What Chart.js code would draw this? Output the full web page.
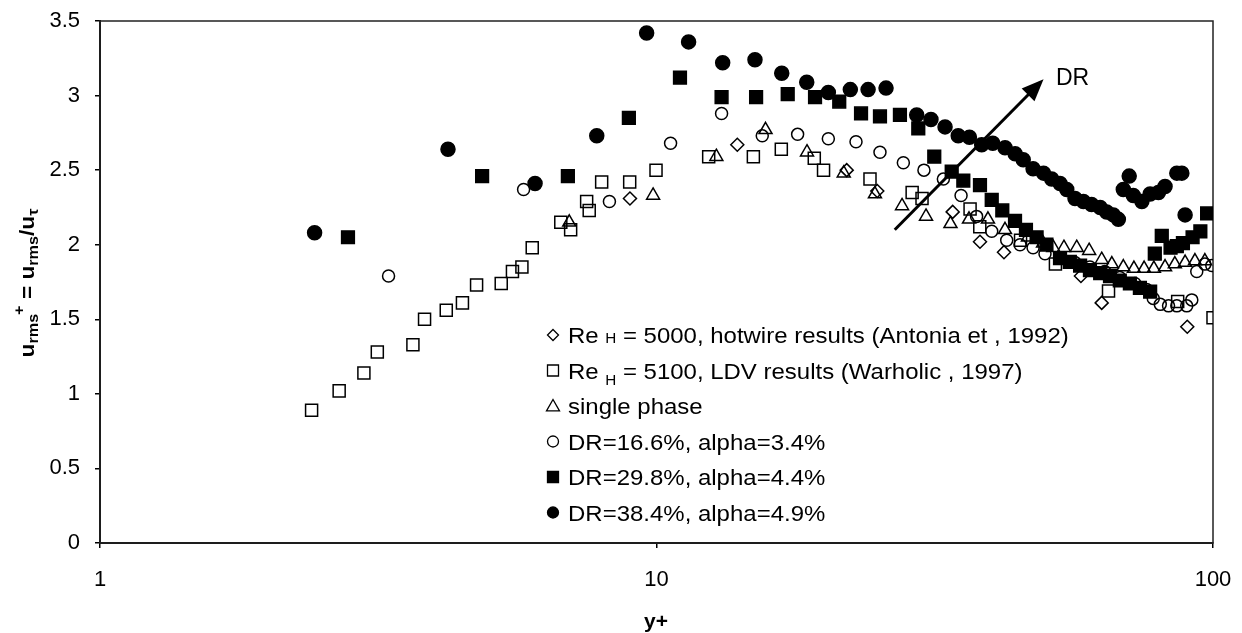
<!DOCTYPE html>
<html>
<head>
<meta charset="utf-8">
<script src="https://cdn.jsdelivr.net/npm/chart.js@4.4.0/dist/chart.umd.min.js"></script>
<style>
  html, body { margin: 0; padding: 0; background: #fff; }
  #wrap { width: 1242px; height: 633px; }
</style>
</head>
<body>
<div id="wrap"><canvas id="rmsChart" width="1242" height="633"></canvas></div>
<script>
// values (y+ on a log axis, u_rms+ linear)
const antoniaX = [8.96, 13.97, 21.97, 24.93, 34.06, 38.13, 42.11, 57.9, 63.1, 89.9];
const antoniaY = [2.31, 2.67, 2.50, 2.36, 2.22, 2.02, 1.95, 1.79, 1.61, 1.45];

const warholicX = [2.40, 2.69, 2.98, 3.15, 3.65, 3.83, 4.19, 4.48, 4.75, 5.26, 5.51, 5.73, 5.98, 6.73, 7.01, 7.49, 7.57,
    7.97, 8.95, 9.98, 12.41, 14.93, 16.76, 19.21, 19.96, 24.19, 28.8, 30.0, 36.6, 38.1, 45.1, 52.1, 64.9, 86.4, 100];
const warholicY = [0.89, 1.02, 1.14, 1.28, 1.33, 1.50, 1.56, 1.61, 1.73, 1.74, 1.82, 1.85, 1.98, 2.15, 2.10, 2.29, 2.23,
    2.42, 2.42, 2.50, 2.59, 2.59, 2.64, 2.58, 2.50, 2.44, 2.35, 2.31, 2.24, 2.12, 2.03, 1.87, 1.69, 1.62, 1.51];

const singleX = [6.97, 9.86, 12.81, 15.70, 18.64, 21.70, 24.69, 27.62, 30.50, 33.75, 36.44, 39.41, 42.29, 46.5, 49.5,
    51.64, 53.97, 56.9, 59.9, 63.1, 65.8, 69.0, 72.1, 75.2, 78.3, 82.0, 85.4, 89.1, 92.8, 96.7];
const singleY = [2.15, 2.33, 2.59, 2.77, 2.62, 2.48, 2.34, 2.26, 2.19, 2.14, 2.17, 2.17, 2.10, 2.05, 2.01,
    1.98, 1.98, 1.98, 1.96, 1.90, 1.87, 1.85, 1.84, 1.84, 1.84, 1.85, 1.87, 1.88, 1.89, 1.89];

const dr166X = [3.30, 5.77, 8.23, 10.60, 13.09, 15.49, 17.93, 20.36, 22.83, 25.21, 27.77, 30.24, 32.77, 35.26, 37.6,
    40.03, 42.59, 45.0, 47.5, 49.9, 53.1, 56.5, 60.1, 63.9, 68.0, 72.4, 76.0, 78.1, 80.4, 83.2, 86.1, 89.7, 91.6,
    93.5, 96.7, 99.5];
const dr166Y = [1.79, 2.37, 2.29, 2.68, 2.88, 2.73, 2.74, 2.71, 2.69, 2.62, 2.55, 2.50, 2.44, 2.33, 2.19,
    2.09, 2.03, 2.00, 1.98, 1.94, 1.91, 1.88, 1.85, 1.82, 1.78, 1.74, 1.70, 1.64, 1.60, 1.59, 1.59, 1.59, 1.63,
    1.82, 1.87, 1.86];

const dr298X = [2.79, 4.86, 6.93, 8.92, 11.02, 13.09, 15.10, 17.21, 19.27, 21.30, 23.31, 25.21, 27.38, 29.54, 31.56,
    33.92, 35.59, 38.13, 40.03, 41.82, 44.08, 46.12, 48.2, 50.2, 53.1, 55.3, 57.7, 60.1, 62.7, 65.3, 68.0, 70.9,
    73.9, 77.1, 78.6, 80.9, 83.9, 86.1, 88.3, 91.9, 94.9, 97.6];
const dr298Y = [2.05, 2.46, 2.46, 2.85, 3.12, 2.99, 2.99, 3.01, 2.99, 2.96, 2.88, 2.86, 2.87, 2.78, 2.59,
    2.49, 2.43, 2.40, 2.30, 2.23, 2.16, 2.10, 2.05, 2.00, 1.91, 1.885, 1.86, 1.83, 1.81, 1.79, 1.76, 1.74,
    1.71, 1.685, 1.94, 2.06, 1.98, 1.99, 2.01, 2.05, 2.09, 2.21];

const dr384X = [2.43, 4.22, 6.05, 7.81, 9.60, 11.42, 13.15, 15.03, 16.79, 18.62, 20.36, 22.3, 24.0, 25.85, 29.35,
    31.13, 33.0, 34.85, 36.5, 38.4, 40.2, 42.3, 44.1, 45.6, 47.5, 49.6, 51.3, 53.1, 54.6, 56.5, 58.5, 60.5, 62.7,
    64.4, 66.2, 67.6, 69.0, 70.7, 71.9, 74.5, 77.1, 79.8, 82.0, 86.1, 87.9, 89.1];
const dr384Y = [2.08, 2.64, 2.41, 2.73, 3.42, 3.36, 3.22, 3.24, 3.15, 3.09, 3.02, 3.04, 3.04, 3.05, 2.87,
    2.84, 2.79, 2.73, 2.72, 2.67, 2.68, 2.65, 2.61, 2.57, 2.51, 2.48, 2.44, 2.41, 2.37, 2.31, 2.29, 2.27, 2.25,
    2.22, 2.20, 2.17, 2.37, 2.46, 2.33, 2.29, 2.34, 2.35, 2.39, 2.48, 2.48, 2.20];

const xTickValues = [1, 10, 100];
const yTickValues = [0, 0.5, 1, 1.5, 2, 2.5, 3, 3.5];

const FONT = "'Liberation Sans', Arial, sans-serif";

function toPoints(xs, ys) {
    return xs.map((x, i) => ({ x: x, y: ys[i] }));
}

function markerSet(style, radius, filled) {
    return {
        showLine: false,
        pointStyle: style,
        pointRadius: radius,
        pointBorderWidth: 1.5,
        pointBorderColor: "#000",
        pointBackgroundColor: filled ? "#000" : "rgba(0,0,0,0)",
    };
}

// legend is drawn by hand so that "Re H" can carry its subscript
const legendRows = [
    { style: "rectRot", filled: false, sub: "H", subDrop: 0, text: " = 5000, hotwire results (Antonia et , 1992)" },
    { style: "rect", filled: false, sub: "H", subDrop: 6, text: " = 5100, LDV results (Warholic , 1997)" },
    { style: "triangle", filled: false, text: "single phase" },
    { style: "circle", filled: false, text: "DR=16.6%, alpha=3.4%" },
    { style: "rect", filled: true, text: "DR=29.8%, alpha=4.4%" },
    { style: "circle", filled: true, text: "DR=38.4%, alpha=4.9%" },
];

function drawMarker(ctx, style, x, y, r, filled) {
    ctx.beginPath();
    if (style === "rectRot") {
        ctx.moveTo(x, y - r); ctx.lineTo(x + r, y); ctx.lineTo(x, y + r); ctx.lineTo(x - r, y);
        ctx.closePath();
    } else if (style === "rect") {
        ctx.rect(x - r, y - r, 2 * r, 2 * r);
    } else if (style === "triangle") {
        ctx.moveTo(x, y - r); ctx.lineTo(x + r, y + r * 0.75); ctx.lineTo(x - r, y + r * 0.75);
        ctx.closePath();
    } else {
        ctx.arc(x, y, r, 0, Math.PI * 2);
    }
    if (filled) { ctx.fillStyle = "#000"; ctx.fill(); }
    ctx.strokeStyle = "#000";
    ctx.lineWidth = 1.3;
    ctx.stroke();
}

// draws pieces of text one after another, each with its own size and vertical shift
function drawRich(ctx, parts, x, y, bold) {
    let cx = x;
    parts.forEach(p => {
        ctx.font = (bold ? "bold " : "") + p.size + "px " + FONT;
        ctx.fillText(p.t, cx, y + (p.dy || 0));
        cx += ctx.measureText(p.t).width + (p.gap || 0);
    });
    return cx;
}

function richWidth(ctx, parts, bold) {
    let w = 0;
    parts.forEach(p => {
        ctx.font = (bold ? "bold " : "") + p.size + "px " + FONT;
        w += ctx.measureText(p.t).width + (p.gap || 0);
    });
    return w;
}

const annotatePlugin = {
    id: "annotate",
    beforeDatasetsDraw(chart) {
        const { ctx, chartArea: a } = chart;
        ctx.save();
        ctx.strokeStyle = "#222";
        ctx.lineWidth = 1.5;
        ctx.strokeRect(a.left, a.top, a.right - a.left, a.bottom - a.top);
        ctx.restore();
    },
    afterDraw(chart) {
        const { ctx, scales } = chart;
        const xs = scales.x, ys = scales.y;
        ctx.save();
        ctx.fillStyle = "#000";
        ctx.textBaseline = "alphabetic";
        ctx.textAlign = "left";

        // DR arrow
        const x0 = xs.getPixelForValue(26.8), y0 = ys.getPixelForValue(2.10);
        const x1 = xs.getPixelForValue(49.6), y1 = ys.getPixelForValue(3.11);
        const ang = Math.atan2(y1 - y0, x1 - x0);
        const head = 22, half = 9;
        ctx.strokeStyle = "#000";
        ctx.lineWidth = 3;
        ctx.beginPath();
        ctx.moveTo(x0, y0);
        ctx.lineTo(x1 - Math.cos(ang) * head * 0.8, y1 - Math.sin(ang) * head * 0.8);
        ctx.stroke();
        ctx.beginPath();
        ctx.moveTo(x1, y1);
        ctx.lineTo(x1 - Math.cos(ang) * head + Math.sin(ang) * half, y1 - Math.sin(ang) * head - Math.cos(ang) * half);
        ctx.lineTo(x1 - Math.cos(ang) * head - Math.sin(ang) * half, y1 - Math.sin(ang) * head + Math.cos(ang) * half);
        ctx.closePath();
        ctx.fill();

        ctx.font = "23px " + FONT;
        ctx.fillText("DR", xs.getPixelForValue(52.2), ys.getPixelForValue(3.125) + 8);

        // legend (text slightly widened like the scanned original)
        legendRows.forEach((row, i) => {
            const cy = 335 + i * 35.5;
            drawMarker(ctx, row.style, 553, cy, row.style === "triangle" ? 6.5 : 5.5, row.filled);
            ctx.fillStyle = "#000";
            ctx.save();
            ctx.translate(568, cy + 8);
            ctx.scale(1.09, 1);
            if (row.sub) {
                drawRich(ctx, [
                    { t: "Re", size: 22, gap: 6 },
                    { t: row.sub, size: 14, dy: row.subDrop },
                    { t: row.text, size: 22 },
                ], 0, 0, false);
            } else {
                ctx.font = "22px " + FONT;
                ctx.fillText(row.text, 0, 0);
            }
            ctx.restore();
        });

        // axis titles
        const xTitle = [{ t: "y+", size: 21 }];
        drawRich(ctx, xTitle, 656 - richWidth(ctx, xTitle, true) / 2, 628, true);

        const yTitle = [
            { t: "u", size: 21 },
            { t: "rms", size: 15, dy: 4, gap: -1 },
            { t: "+", size: 15, dy: -10 },
            { t: " = u", size: 21 },
            { t: "rms", size: 15, dy: 4 },
            { t: "/u", size: 21 },
            { t: "\u03c4", size: 15, dy: 4 },
        ];
        ctx.translate(34, 283);
        ctx.rotate(-Math.PI / 2);
        ctx.scale(1.08, 1);
        drawRich(ctx, yTitle, -richWidth(ctx, yTitle, true) / 2, 0, true);
        ctx.restore();
    },
};

const tickFont = { family: FONT, size: 22 };

new Chart(document.getElementById("rmsChart"), {
    type: "scatter",
    data: {
        datasets: [
            { label: "DR=38.4%, alpha=4.9%", data: toPoints(dr384X, dr384Y), order: 1, ...markerSet("circle", 7, true) },
            { label: "DR=29.8%, alpha=4.4%", data: toPoints(dr298X, dr298Y), order: 2, ...markerSet("rect", 9, true) },
            { label: "DR=16.6%, alpha=3.4%", data: toPoints(dr166X, dr166Y), order: 3, ...markerSet("circle", 6, false) },
            { label: "single phase", data: toPoints(singleX, singleY), order: 4, ...markerSet("triangle", 7.5, false) },
            { label: "Re H = 5100, LDV results (Warholic , 1997)", data: toPoints(warholicX, warholicY), order: 5, ...markerSet("rect", 8.5, false) },
            { label: "Re H = 5000, hotwire results (Antonia et , 1992)", data: toPoints(antoniaX, antoniaY), order: 6, ...markerSet("rectRot", 6.5, false) },
        ],
    },
    options: {
        responsive: false,
        devicePixelRatio: 1,
        animation: false,
        events: [],
        layout: { padding: { top: 21, right: 29, left: 0, bottom: 0 } },
        plugins: {
            legend: { display: false },
            tooltip: { enabled: false },
        },
        scales: {
            x: {
                type: "logarithmic",
                min: 1,
                max: 100,
                afterBuildTicks: s => { s.ticks = xTickValues.map(v => ({ value: v })); },
                afterFit: s => { s.height = 90; s.paddingLeft = 0; s.paddingRight = 0; },
                ticks: { callback: v => String(v), font: tickFont, color: "#000", padding: 19, autoSkip: false, maxRotation: 0 },
                grid: { drawOnChartArea: false, tickLength: 5, color: "#000", lineWidth: 1.5 },
                border: { color: "#111", width: 2 },
            },
            y: {
                min: 0,
                max: 3.5,
                afterBuildTicks: s => { s.ticks = yTickValues.map(v => ({ value: v })); },
                afterFit: s => { s.width = 100; s.paddingTop = 0; s.paddingBottom = 0; },
                ticks: { callback: v => String(v), font: tickFont, color: "#000", padding: 15 },
                grid: { drawOnChartArea: false, tickLength: 5, color: "#000", lineWidth: 1.5 },
                border: { color: "#111", width: 2 },
            },
        },
    },
    plugins: [annotatePlugin],
});
</script>
</body>
</html>
